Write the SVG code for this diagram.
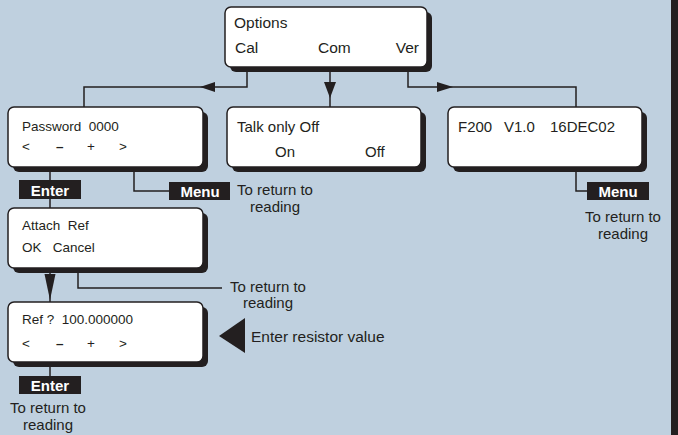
<svg xmlns="http://www.w3.org/2000/svg" width="678" height="435" viewBox="0 0 678 435">
<defs>
<style>
.bg{fill:#bfd0df}
.sh{fill:#231f20}
.box{fill:#ffffff;stroke:#231f20;stroke-width:1.5}
.t{font-family:"Liberation Sans",Arial,sans-serif;fill:#231f20}
.s13{font-size:13.5px}
.s15{font-size:15px}
.s16{font-size:15.5px}
.b{font-weight:bold}
.btn{fill:#231f20}
.bt{font-family:"Liberation Sans",Arial,sans-serif;font-weight:bold;font-size:15px;fill:#ffffff}
.ln{fill:none;stroke:#231f20;stroke-width:1.5}
.ah{fill:#231f20}
</style>
</defs>
<rect class="bg" x="0" y="0" width="678" height="435"/>
<rect class="sh" x="671" y="0" width="7" height="435"/>

<g id="connectors">
<polyline class="ln" points="247,67 247,87 84,87 84,107"/>
<polygon class="ah" points="200,87 215,82 215,92"/>
<line class="ln" x1="330" y1="67" x2="330" y2="107"/>
<polygon class="ah" points="330,98 324,82 336,82"/>
<polyline class="ln" points="408,67 408,87 576,87 576,107"/>
<polygon class="ah" points="453,87 437,82 437,92"/>
<line class="ln" x1="50" y1="167" x2="50" y2="208"/>
<polyline class="ln" points="134,167 134,191 169,191"/>
<polyline class="ln" points="576,167 576,191 587,191"/>
<line class="ln" x1="50" y1="268" x2="50" y2="302"/>
<polygon class="ah" points="50,300 44.5,274 55.5,274"/>
<polyline class="ln" points="78,268 78,288 222,288"/>
<line class="ln" x1="50" y1="362" x2="50" y2="376"/>
<polygon class="ah" points="219,336 245,318 245,353"/>
</g>

<g id="options">
<rect class="sh" x="230" y="12" width="202" height="60" rx="6"/>
<rect class="box" x="225" y="7" width="202" height="60" rx="6"/>
<text class="t s16" x="234" y="28">Options</text>
<text class="t s16" x="235" y="53">Cal</text>
<text class="t s16" x="318" y="53">Com</text>
<text class="t s16" x="419" y="53" text-anchor="end">Ver</text>
</g>

<g id="password">
<rect class="sh" x="13" y="112" width="195" height="60" rx="6"/>
<rect class="box" x="8" y="107" width="195" height="60" rx="6"/>
<text class="t s13" x="22" y="131" xml:space="preserve">Password  0000</text>
<text class="t s13" x="22" y="151">&lt;</text>
<text class="t s13 b" x="56" y="151">–</text>
<text class="t s13" x="87" y="151">+</text>
<text class="t s13" x="119" y="151">&gt;</text>
</g>

<g id="talkonly">
<rect class="sh" x="232" y="112" width="194" height="60" rx="6"/>
<rect class="box" x="227" y="107" width="194" height="60" rx="6"/>
<text class="t s15" x="237" y="132">Talk only Off</text>
<text class="t s15" x="275" y="157">On</text>
<text class="t s15" x="365" y="157">Off</text>
</g>

<g id="version">
<rect class="sh" x="453" y="112" width="194" height="60" rx="6"/>
<rect class="box" x="448" y="107" width="194" height="60" rx="6"/>
<text class="t s15" x="458" y="132">F200</text>
<text class="t s15" x="504" y="132">V1.0</text>
<text class="t s15" x="550" y="132">16DEC02</text>
</g>

<g id="enter1">
<rect class="btn" x="19" y="180" width="62" height="19"/>
<text class="bt" x="50" y="196" text-anchor="middle">Enter</text>
</g>

<g id="menu1">
<rect class="btn" x="169" y="182" width="61" height="18"/>
<text class="bt" x="200" y="197" text-anchor="middle">Menu</text>
<text class="t s15" x="275" y="195" text-anchor="middle">To return to</text>
<text class="t s15" x="275" y="212" text-anchor="middle">reading</text>
</g>

<g id="menu2">
<rect class="btn" x="587" y="182" width="62" height="18"/>
<text class="bt" x="618" y="197" text-anchor="middle">Menu</text>
<text class="t s15" x="623" y="222" text-anchor="middle">To return to</text>
<text class="t s15" x="623" y="239" text-anchor="middle">reading</text>
</g>

<g id="attach">
<rect class="sh" x="13" y="213" width="195" height="60" rx="6"/>
<rect class="box" x="8" y="208" width="195" height="60" rx="6"/>
<text class="t s13" x="22" y="230" xml:space="preserve">Attach  Ref</text>
<text class="t s13" x="22" y="252" xml:space="preserve">OK   Cancel</text>
</g>

<g id="return2">
<text class="t s15" x="268" y="292" text-anchor="middle">To return to</text>
<text class="t s15" x="268" y="308" text-anchor="middle">reading</text>
</g>

<g id="ref">
<rect class="sh" x="13" y="307" width="195" height="60" rx="6"/>
<rect class="box" x="8" y="302" width="195" height="60" rx="6"/>
<text class="t s13" x="22" y="324" xml:space="preserve">Ref ?  100.000000</text>
<text class="t s13" x="22" y="348">&lt;</text>
<text class="t s13 b" x="56" y="348">–</text>
<text class="t s13" x="87" y="348">+</text>
<text class="t s13" x="119" y="348">&gt;</text>
</g>

<g id="resistor">
<text class="t s16" x="251" y="342">Enter resistor value</text>
</g>

<g id="enter2">
<rect class="btn" x="19" y="376" width="62" height="18"/>
<text class="bt" x="50" y="391" text-anchor="middle">Enter</text>
<text class="t s15" x="48" y="413" text-anchor="middle">To return to</text>
<text class="t s15" x="48" y="430" text-anchor="middle">reading</text>
</g>
</svg>
